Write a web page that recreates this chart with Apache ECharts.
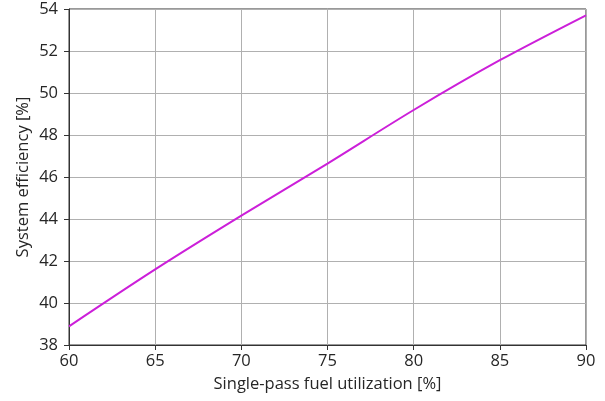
<!DOCTYPE html>
<html>
<head>
<meta charset="utf-8">
<script src="https://cdn.jsdelivr.net/npm/echarts@6/dist/echarts.min.js"></script>
<style>
  html, body { margin: 0; padding: 0; background: #fff; }
  #chart { width: 605px; height: 401px; }
</style>
</head>
<body>
<div id="chart"></div>
<script>
// Single-pass fuel utilization [%] vs. system efficiency [%]
const utilization = [60, 65, 70, 75, 80, 85, 90];
const efficiency = [38.89, 41.6, 44.16, 46.64, 49.19, 51.56, 53.7];
const xTicks = [60, 65, 70, 75, 80, 85, 90];
const yTicks = [38, 40, 42, 44, 46, 48, 50, 52, 54];

const font = 'Open Sans';
const fontSize = 16.5;
const textColor = '#262626';
const chart = echarts.init(document.getElementById('chart'), null, { renderer: 'canvas' });

chart.setOption({
  animation: false,
  backgroundColor: '#ffffff',
  grid: {
    left: 69, right: 19, top: 9, bottom: 56,
    show: true, borderColor: '#333333', borderWidth: 1, backgroundColor: 'transparent'
  },
  xAxis: {
    type: 'value',
    min: xTicks[0], max: xTicks[xTicks.length - 1], interval: 5,
    name: 'Single-pass fuel utilization [%]',
    nameLocation: 'middle', nameGap: 31,
    nameTextStyle: { fontFamily: font, fontSize: fontSize, color: textColor },
    axisLine: { show: true, lineStyle: { color: '#333333', width: 1 } },
    axisTick: { show: true, inside: false, length: 5, lineStyle: { color: '#333333' } },
    axisLabel: { fontFamily: font, fontSize: fontSize, color: textColor, margin: 8 },
    splitLine: { show: true, lineStyle: { color: '#b0b0b0', width: 1 } }
  },
  yAxis: {
    type: 'value',
    min: yTicks[0], max: yTicks[yTicks.length - 1], interval: 2,
    name: 'System efficiency [%]',
    nameLocation: 'middle', nameGap: 37, nameRotate: 90,
    nameMoveOverlap: false,
    nameTextStyle: { fontFamily: font, fontSize: fontSize, color: textColor },
    axisLine: { show: true, lineStyle: { color: '#333333', width: 1 } },
    axisTick: { show: true, inside: false, length: 5, lineStyle: { color: '#333333' } },
    axisLabel: { fontFamily: font, fontSize: fontSize, color: textColor, margin: 11 },
    splitLine: { show: true, lineStyle: { color: '#b0b0b0', width: 1 } }
  },
  series: [{
    type: 'line',
    data: utilization.map((u, i) => [u, efficiency[i]]),
    showSymbol: false,
    smooth: 0.3,
    lineStyle: { color: '#cc1fd9', width: 2 },
    itemStyle: { color: '#cc1fd9' }
  }]
});
</script>
</body>
</html>
